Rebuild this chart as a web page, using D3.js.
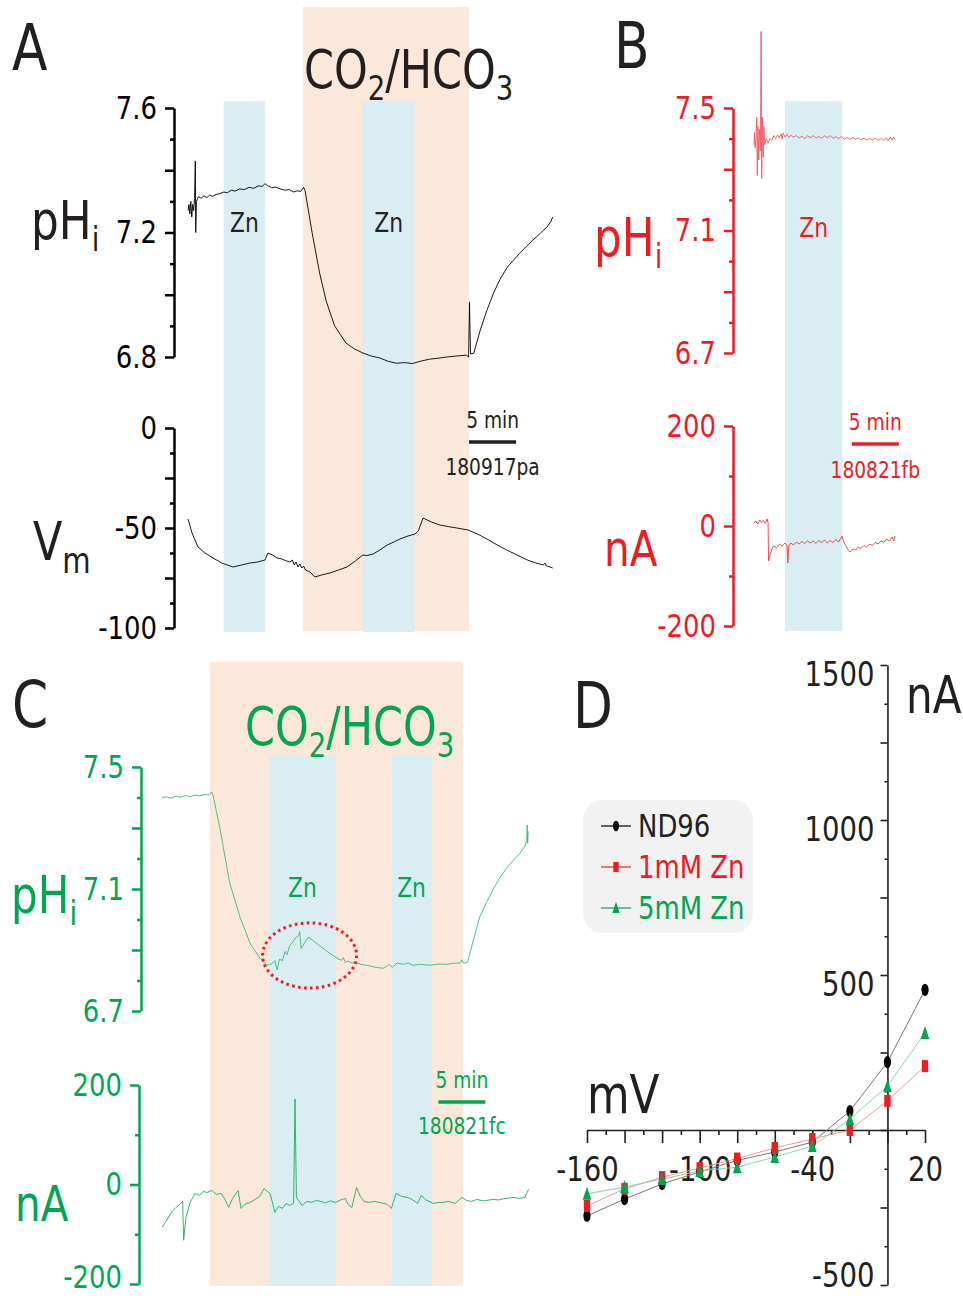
<!DOCTYPE html>
<html>
<head>
<meta charset="utf-8">
<script src="https://cdn.jsdelivr.net/npm/d3@7"></script>
<style>
body { margin: 0; background: #fff; }
svg { display: block; font-family: 'Liberation Sans Narrow', 'DejaVu Sans Condensed', Roboto, sans-serif; }
</style>
</head>
<body>
<script>
var W = 963, H = 1299;
var PX_PER_MIN = 9.4;   // 5 min bar = 47 px
var SQ = 0.9;           // horizontal squeeze, the figure uses a condensed face

var INK = '#231f20', RED = '#ed1c24', GREEN = '#00a651';
var ORANGE_BG = '#fce8da', BLUE_BG = '#d9edf3';

// ---- panel A : pHi and Vm, minutes ----
var phA = [[0.0,7.27],[0.1,7.29],[0.2,7.26],[0.3,7.30],[0.4,7.25],[0.5,7.29],[0.6,7.27],[0.7,7.31],
  [0.78,7.43],[0.82,7.20],[0.9,7.30],[1.1,7.315],[1.4,7.31],[1.7,7.318],[2.0,7.312],[2.3,7.32],[2.6,7.316],
  [3.0,7.322],[3.4,7.325],[3.8,7.33],[4.2,7.328],[4.6,7.336],[5.0,7.333],[5.5,7.34],[6.0,7.338],[6.5,7.345],
  [7.0,7.342],[7.5,7.35],[7.9,7.348],[8.2,7.357],[8.5,7.35],[8.9,7.344],[9.3,7.346],[9.8,7.34],[10.3,7.336],
  [10.8,7.338],[11.2,7.33],[11.6,7.334],[12.0,7.332],[12.3,7.345],[12.45,7.335],[13.2,7.2],[14.0,7.07],
  [14.7,6.98],[15.6,6.90],[16.8,6.845],[17.7,6.826],[18.6,6.813],[19.5,6.803],[20.4,6.797],[21.3,6.786],
  [22.2,6.78],[23.0,6.782],[23.9,6.779],[24.8,6.787],[25.7,6.793],[26.6,6.796],[27.5,6.80],[28.5,6.803],
  [29.6,6.806],[29.85,6.80],[29.95,6.977],[30.05,6.81],[30.4,6.812],[31.1,6.887],[31.8,6.95],[32.5,7.005],
  [33.2,7.05],[34.0,7.09],[34.6,7.11],[35.3,7.134],[36.0,7.155],[36.7,7.176],[37.5,7.198],[38.2,7.218],
  [38.6,7.235],[38.8,7.25]];
var vmA = [[0,-45.5],[0.43,-52.5],[1.06,-59.5],[1.8,-62.5],[2.66,-65],[3.6,-67.5],[4.79,-69.5],[5.7,-68.5],
  [6.6,-67.5],[7.4,-67],[8.19,-66],[8.5,-62.5],[9.0,-63.5],[9.47,-65],[10.0,-65.5],[10.5,-66.5],[10.85,-67],
  [11.1,-66],[11.3,-68.5],[11.5,-67],[11.7,-69.5],[11.9,-68],[12.1,-70],[12.3,-69],[12.5,-71],[12.98,-72],
  [13.5,-74.5],[14.2,-73.5],[15.1,-72.5],[16.0,-71],[16.9,-69.5],[17.8,-66.5],[18.6,-63.5],[19.0,-63.8],
  [19.7,-63],[20.4,-61],[21.2,-58.5],[21.9,-57],[22.55,-55.5],[23.4,-54],[24.15,-53],[24.5,-51.5],[25.0,-45],
  [25.9,-47],[26.8,-48.5],[27.7,-49.3],[28.6,-50],[29.8,-51],[30.8,-53],[31.8,-55.5],[32.9,-58.5],[33.9,-61],
  [35.0,-63.5],[36.1,-66],[37.0,-67.5],[37.8,-68.5],[38.0,-67.5],[38.1,-68.8],[38.8,-70]];
var znA = [[3.8, 8.2], [18.6, 24.1]];
var co2A = [12.2, 29.9];
var barA = [29.9, 34.9];

// ---- panel B : pHi and current ----
var phB = [[0,7.38],[0.05,7.42],[0.12,7.37],[0.2,7.40],[0.3,7.47],[0.35,7.28],[0.42,7.44],[0.5,7.33],
  [0.58,7.43],[0.68,7.36],[0.75,7.75],[0.82,7.27],[0.9,7.47],[0.98,7.34],[1.05,7.44],[1.15,7.38],[1.3,7.40],
  [1.5,7.385],[1.7,7.40],[1.9,7.395],[2.1,7.41],[2.3,7.40],[2.5,7.412],[2.7,7.402],[2.9,7.415],[3.0,7.398],
  [3.1,7.418],[3.3,7.405],[3.5,7.414],[3.7,7.403],[3.9,7.411],[4.2,7.405],[4.5,7.41],[4.8,7.402],[5.1,7.408],
  [5.4,7.40],[5.7,7.409],[6.0,7.403],[6.3,7.41],[6.6,7.402],[6.9,7.407],[7.2,7.401],[7.5,7.409],[7.8,7.403],
  [8.1,7.41],[8.4,7.401],[8.7,7.406],[9.0,7.40],[9.3,7.407],[9.6,7.398],[9.9,7.404],[10.2,7.397],[10.5,7.403],
  [10.8,7.398],[11.1,7.402],[11.4,7.396],[11.7,7.401],[12.0,7.395],[12.3,7.40],[12.6,7.396],[12.9,7.401],
  [13.2,7.395],[13.5,7.40],[13.8,7.394],[14.1,7.402],[14.3,7.393],[14.5,7.405],[14.7,7.395],[14.85,7.404],[15.0,7.398]];
var curB = [[0,6],[0.2,10],[0.4,4],[0.6,12],[0.8,7],[1.0,11],[1.2,5],[1.4,14],[1.5,6],[1.55,-70],[1.7,-58],
  [1.9,-46],[2.1,-40],[2.4,-44],[2.7,-36],[3.0,-40],[3.3,-34],[3.5,-38],[3.6,-74],[3.7,-40],[3.9,-34],[4.2,-38],
  [4.5,-32],[4.8,-36],[5.1,-31],[5.4,-35],[5.7,-30],[6.0,-34],[6.3,-30],[6.6,-35],[6.9,-29],[7.2,-33],[7.5,-28],
  [7.8,-34],[8.1,-29],[8.4,-33],[8.7,-27],[9.0,-32],[9.2,-26],[9.35,-20],[9.6,-34],[9.9,-44],[10.2,-52],
  [10.5,-46],[10.8,-48],[11.1,-42],[11.4,-45],[11.7,-39],[12.0,-42],[12.3,-36],[12.6,-39],[12.9,-33],[13.2,-36],
  [13.5,-30],[13.8,-33],[14.1,-26],[14.4,-30],[14.7,-22],[14.85,-30],[15.0,-20]];
var znB = [[3.3, 9.4]];
var barB = [10.4, 15.4];

// ---- panel C : pHi and current ----
var phC = [[0,7.40],[0.5,7.402],[1.0,7.398],[1.5,7.404],[2.0,7.401],[2.5,7.406],[3.0,7.403],[3.5,7.408],
  [4.0,7.405],[4.5,7.41],[5.0,7.408],[5.3,7.418],[5.45,7.405],[6.2,7.293],[7.2,7.12],[8.3,7.008],[9.4,6.92],
  [10.4,6.874],[11.2,6.85],[11.7,6.855],[12.0,6.866],[12.25,6.835],[12.5,6.87],[12.8,6.865],[13.1,6.895],
  [13.3,6.885],[13.6,6.915],[13.9,6.925],[14.2,6.94],[14.5,6.945],[14.65,6.96],[14.8,6.905],[15.2,6.925],
  [15.6,6.942],[16.3,6.925],[17.1,6.906],[17.8,6.89],[18.6,6.874],[19.1,6.866],[19.3,6.875],[19.5,6.858],
  [19.7,6.864],[20.2,6.858],[20.7,6.857],[21.3,6.852],[21.8,6.85],[22.6,6.844],[23.5,6.84],[24.2,6.852],
  [24.5,6.843],[25.0,6.857],[25.7,6.853],[26.2,6.858],[26.7,6.85],[27.5,6.853],[28.5,6.85],[29.4,6.854],
  [30.3,6.853],[31.1,6.857],[31.7,6.857],[31.9,6.868],[32.1,6.856],[32.5,6.86],[33.2,6.94],[33.8,7.008],
  [34.5,7.055],[35.2,7.097],[36.0,7.14],[36.7,7.17],[37.4,7.195],[38.1,7.218],[38.6,7.24],[38.8,7.26],
  [38.85,7.31],[38.9,7.25],[38.95,7.29]];
var curC = [[0,-86],[0.5,-72],[1.0,-56],[1.5,-46],[2.1,-36],[2.2,-34],[2.3,-112],[2.55,-66],[3.0,-36],
  [3.5,-18],[4.0,-22],[4.4,-14],[4.8,-16],[5.3,-12],[5.8,-20],[6.3,-18],[6.7,-30],[7.1,-46],[7.5,-28],[8.1,-12],
  [8.4,-48],[8.8,-40],[9.4,-36],[9.9,-30],[10.4,-24],[10.85,-8],[11.2,-14],[11.5,-18],[11.8,-40],[12.0,-56],
  [12.4,-44],[12.8,-48],[13.2,-38],[13.6,-42],[14.0,-38],[14.15,172],[14.3,-26],[14.6,-34],[14.9,-42],
  [15.4,-34],[15.9,-36],[16.4,-32],[16.9,-34],[17.4,-37],[17.9,-33],[18.5,-36],[19.0,-31],[19.5,-28],
  [19.8,-40],[20.2,-46],[20.7,-6],[21.1,-24],[21.5,-34],[22.0,-36],[22.6,-34],[23.1,-36],[23.6,-38],[24.0,-40],
  [24.4,-48],[24.9,-18],[25.5,-24],[26.1,-26],[26.6,-30],[27.2,-38],[27.6,-22],[28.0,-30],[28.4,-34],
  [28.9,-38],[29.4,-36],[29.9,-36],[30.5,-34],[31.2,-38],[31.9,-26],[32.4,-32],[32.9,-34],[33.5,-30],
  [34.2,-33],[35.2,-30],[35.8,-31],[36.5,-28],[37.4,-26],[38.0,-28],[38.6,-26],[39.0,-10]];
var znC = [[11.4, 18.5], [24.4, 28.7]];
var co2C = [5.1, 32.0];
var barC = [29.4, 34.4];
var circleC = {t: 15.7, ph: 6.882, dt: 5.0, dph: 0.107};

// ---- panel D : I-V curve ----
var ivVolts = [-160, -140, -120, -100, -80, -60, -40, -20, 0, 20];
var ivNd96  = [-277, -223, -174, -135, -98, -71, -39, 61, 219, 452];
var ivZn1   = [-245, -190, -152, -123, -92, -58, -29, 0, 94, 206];
var ivZn5   = [-206, -184, -158, -132, -120, -87, -52, 35, 142, 313];
var ivNames = ['ND96', '1mM Zn', '5mM Zn'];

var svg = d3.select('body').append('svg').attr('width', W).attr('height', H);

function close(a, b) { return Math.abs(a - b) < 1e-6; }
function inList(list, d) { return list.some(function(v) { return close(v, d); }); }

// squeeze axis tick labels without moving their anchor
function squeezeTicks(g) {
  g.selectAll('.tick text').each(function() {
    var t = d3.select(this);
    t.attr('x', (+t.attr('x') || 0) / SQ).attr('transform', 'scale(' + SQ + ',1)');
  });
}

function leftAxis(scale, x, ticks, majors, labels, fmt, color, sw) {
  var g = svg.append('g').attr('transform', 'translate(' + x + ',0)')
    .call(d3.axisLeft(scale).tickValues(ticks).tickSize(9).tickSizeOuter(0).tickPadding(8)
      .tickFormat(function(d) { return inList(labels, d) ? fmt(d) : ''; }));
  g.attr('font-family', null).attr('font-size', 32);
  g.select('.domain').attr('stroke', color).attr('stroke-width', sw);
  g.selectAll('.tick line').attr('stroke', color).attr('stroke-width', sw)
    .attr('x2', function(d) { return inList(majors, d) ? -9 : -4; });
  g.selectAll('.tick text').attr('fill', color);
  squeezeTicks(g);
  return g;
}

function bands(x, list, y0, y1, fill) {
  svg.append('g').selectAll('rect').data(list).enter().append('rect')
    .attr('x', function(d) { return x(d[0]); })
    .attr('width', function(d) { return x(d[1]) - x(d[0]); })
    .attr('y', y0).attr('height', y1 - y0).attr('fill', fill);
}

function trace(x, y, data, color, w) {
  svg.append('path').datum(data)
    .attr('d', d3.line().x(function(d) { return x(d[0]); }).y(function(d) { return y(d[1]); }))
    .attr('fill', 'none').attr('stroke', color).attr('stroke-width', w).attr('stroke-linejoin', 'round');
}

function textAt(x, y, size, color, anchor) {
  return svg.append('text')
    .attr('transform', 'translate(' + x + ',' + y + ') scale(' + SQ + ',1)')
    .attr('font-size', size).attr('fill', color).attr('text-anchor', anchor || 'start');
}

function label(x, y, str, size, color, anchor) {
  return textAt(x, y, size, color, anchor).text(str);
}

// text with one subscript
function subLabel(x, y, main, sub, size, subSize, drop, color) {
  var t = textAt(x, y, size, color);
  t.append('tspan').text(main);
  t.append('tspan').attr('font-size', subSize).attr('dy', drop).text(sub);
}

function co2Label(x, y, color) {
  var t = textAt(x, y, 53, color);
  t.append('tspan').text('CO');
  t.append('tspan').attr('font-size', 34).attr('dy', 12).text('2');
  t.append('tspan').attr('dy', -12).text('/HCO');
  t.append('tspan').attr('font-size', 34).attr('dy', 12).text('3');
}

function scaleBar(x, bar, y, name, color, nameY) {
  svg.append('line').attr('x1', x(bar[0])).attr('x2', x(bar[1])).attr('y1', y).attr('y2', y)
    .attr('stroke', color).attr('stroke-width', 3.5);
  var mid = (x(bar[0]) + x(bar[1])) / 2;
  label(mid, y - 14, '5 min', 23, color, 'middle');
  label(mid, nameY, name, 23, color, 'middle');
}

var phTicksA = d3.range(68, 77).map(function(v) { return v / 10; });
var phTicks = d3.range(67, 76).map(function(v) { return v / 10; });
var f1 = function(d) { return d.toFixed(1); };
var f0 = function(d) { return String(d); };

// ================= Panel A =================
var xA = d3.scaleLinear().domain([0, 39]).range([188, 188 + 39 * PX_PER_MIN]);
var yPhA = d3.scaleLinear().domain([6.8, 7.6]).range([357, 108]);
var yVmA = d3.scaleLinear().domain([-100, 0]).range([628, 428]);

bands(xA, [co2A], 7, 631, ORANGE_BG);
bands(xA, znA, 101, 632, BLUE_BG);

label(12, 70, 'A', 64, INK);
co2Label(304, 88, INK);
subLabel(31, 239, 'pH', 'i', 54, 34, 12, INK);
subLabel(33, 560, 'V', 'm', 53, 36, 13, INK);
znA.forEach(function(b) { label((xA(b[0]) + xA(b[1])) / 2, 232, 'Zn', 27, INK, 'middle'); });

leftAxis(yPhA, 174, phTicksA, [6.8, 7.0, 7.2, 7.4, 7.6], [6.8, 7.2, 7.6], f1, '#000', 2.5);
leftAxis(yVmA, 174, d3.range(-100, 0.1, 12.5), [-100, -75, -50, -25, 0], [-100, -50, 0], f0, '#000', 2.5);

trace(xA, yPhA, phA, '#000', 0.9);
trace(xA, yVmA, vmA, '#000', 0.9);
scaleBar(xA, barA, 442, '180917pa', INK, 475);

// ================= Panel B =================
var xB = d3.scaleLinear().domain([0, 15]).range([754, 754 + 15 * PX_PER_MIN]);
var yPhB = d3.scaleLinear().domain([6.7, 7.5]).range([353, 108]);
var yCurB = d3.scaleLinear().domain([-200, 200]).range([626, 426]);

bands(xB, znB, 101, 631, BLUE_BG);
label(614, 68, 'B', 64, INK);
subLabel(594, 256, 'pH', 'i', 54, 34, 12, RED);
label(604, 566, 'nA', 50, RED);
label((xB(znB[0][0]) + xB(znB[0][1])) / 2, 237, 'Zn', 27, RED, 'middle');

leftAxis(yPhB, 733, phTicks, [6.7, 6.9, 7.1, 7.3, 7.5], [6.7, 7.1, 7.5], f1, RED, 2.5);
leftAxis(yCurB, 733, d3.range(-200, 201, 100), [-200, 0, 200], [-200, 0, 200], f0, RED, 2.5);

trace(xB, yPhB, phB, '#f0595e', 0.9);
trace(xB, yCurB, curB, '#ee3a40', 0.9);
scaleBar(xB, barB, 444, '180821fb', RED, 478);

// ================= Panel C =================
var xC = d3.scaleLinear().domain([0, 39]).range([162, 162 + 39 * PX_PER_MIN]);
var yPhC = d3.scaleLinear().domain([6.7, 7.5]).range([1011, 767]);
var yCurC = d3.scaleLinear().domain([-200, 200]).range([1284, 1085]);

bands(xC, [co2C], 662, 1286, ORANGE_BG);
bands(xC, znC, 755, 1286, BLUE_BG);

label(12, 727, 'C', 64, INK);
co2Label(245, 745, GREEN);
subLabel(11, 913, 'pH', 'i', 52, 34, 12, GREEN);
label(15, 1221, 'nA', 50, GREEN);
znC.forEach(function(b) { label((xC(b[0]) + xC(b[1])) / 2, 897, 'Zn', 27, GREEN, 'middle'); });

leftAxis(yPhC, 141, phTicks, [6.7, 6.9, 7.1, 7.3, 7.5], [6.7, 7.1, 7.5], f1, GREEN, 2.5);
var gCurC = leftAxis(yCurC, 139, d3.range(-200, 201, 100), [-200, 0, 200], [-200, 0, 200], f0, GREEN, 2.5);
gCurC.selectAll('.tick text').attr('dy', function(d) { return d === -200 ? '0.1em' : '0.32em'; });

trace(xC, yPhC, phC, '#3dba72', 0.9);
trace(xC, yCurC, curC, '#22aa5c', 0.9);
scaleBar(xC, barC, 1102, '180821fc', GREEN, 1134);

var cx = xC(circleC.t), cy = yPhC(circleC.ph);
svg.append('ellipse').attr('cx', cx).attr('cy', cy)
  .attr('rx', xC(circleC.t + circleC.dt) - cx).attr('ry', cy - yPhC(circleC.ph + circleC.dph))
  .attr('fill', 'none').attr('stroke', RED).attr('stroke-width', 3).attr('stroke-dasharray', '2.6,3.4');

// ================= Panel D =================
var xD = d3.scaleLinear().domain([-160, 20]).range([587, 925]);
var yD = d3.scaleLinear().domain([-500, 1500]).range([1285, 665]);

label(573, 728, 'D', 64, INK);
label(906, 713, 'nA', 52, INK);
label(587, 1113, 'mV', 54, INK);

var gx = svg.append('g').attr('transform', 'translate(0,' + yD(0) + ')')
  .call(d3.axisBottom(xD).tickValues(d3.range(-160, 21, 10)).tickSize(13).tickSizeOuter(0).tickPadding(14)
    .tickFormat(function(d) { return [-160, -100, -40, 20].indexOf(d) >= 0 ? d : ''; }));
gx.attr('font-family', null).attr('font-size', 34);
gx.select('.domain').attr('stroke', INK).attr('stroke-width', 1.6);
gx.selectAll('.tick line').attr('stroke', INK).attr('stroke-width', 1.6)
  .attr('y2', function(d) { return d % 20 === 0 ? 13 : 5; });
gx.selectAll('.tick text').attr('fill', INK);
squeezeTicks(gx);

var gy = svg.append('g').attr('transform', 'translate(' + xD(0) + ',0)')
  .call(d3.axisLeft(yD).tickValues(d3.range(-500, 1501, 125)).tickSize(7).tickSizeOuter(0).tickPadding(6)
    .tickFormat(function(d) { return [1500, 1000, 500, -500].indexOf(d) >= 0 ? d : ''; }));
gy.attr('font-family', null).attr('font-size', 34);
gy.select('.domain').attr('stroke', INK).attr('stroke-width', 1.6);
gy.selectAll('.tick line').attr('stroke', INK).attr('stroke-width', 1.6)
  .attr('x2', function(d) { return d % 250 === 0 ? -7 : -3; });
gy.selectAll('.tick text').attr('fill', INK)
  .attr('dy', function(d) { return d < 0 ? '0.05em' : '0.6em'; });
squeezeTicks(gy);

var ivSeries = [
  {name: ivNames[0], vals: ivNd96, color: '#000', line: '#777', shape: 'ellipse'},
  {name: ivNames[1], vals: ivZn1, color: RED, line: '#f39a9a', shape: 'rect'},
  {name: ivNames[2], vals: ivZn5, color: GREEN, line: '#88d3a8', shape: 'tri'}
];

function marker(g, shape, color, x, y, s) {
  if (shape === 'ellipse') {
    g.append('ellipse').attr('cx', x).attr('cy', y).attr('rx', 3.6 * s).attr('ry', 6.2 * s).attr('fill', color);
  } else if (shape === 'rect') {
    g.append('rect').attr('x', x - 3.2 * s).attr('y', y - 6 * s).attr('width', 6.4 * s).attr('height', 12 * s).attr('fill', color);
  } else {
    g.append('path').attr('d', 'M' + x + ',' + (y - 7 * s) + 'L' + (x + 4.3 * s) + ',' + (y + 6 * s) + 'L' + (x - 4.3 * s) + ',' + (y + 6 * s) + 'Z')
      .attr('fill', color);
  }
}

var ivLine = d3.line().x(function(d) { return xD(d[0]); }).y(function(d) { return yD(d[1]); });
ivSeries.forEach(function(s) {
  var pts = ivVolts.map(function(v, i) { return [v, s.vals[i]]; });
  svg.append('path').datum(pts).attr('d', ivLine).attr('fill', 'none')
    .attr('stroke', s.line).attr('stroke-width', 1);
});
ivSeries.forEach(function(s) {
  var g = svg.append('g');
  ivVolts.forEach(function(v, i) { marker(g, s.shape, s.color, xD(v), yD(s.vals[i]), 1); });
});

// legend
var lg = svg.append('g');
lg.append('rect').attr('x', 583).attr('y', 800).attr('width', 170).attr('height', 133)
  .attr('rx', 20).attr('fill', '#f2f2f2');
ivSeries.forEach(function(s, i) {
  var y = 826 + i * 41;
  lg.append('line').attr('x1', 601).attr('x2', 631).attr('y1', y).attr('y2', y)
    .attr('stroke', s.color).attr('stroke-width', 1.2);
  marker(lg, s.shape, s.color, 616, y, 0.85);
  lg.append('text').attr('transform', 'translate(638,' + (y + 11) + ') scale(' + SQ + ',1)')
    .attr('font-size', 32).attr('fill', s.color === '#000' ? INK : s.color).text(s.name);
});
</script>
</body>
</html>
